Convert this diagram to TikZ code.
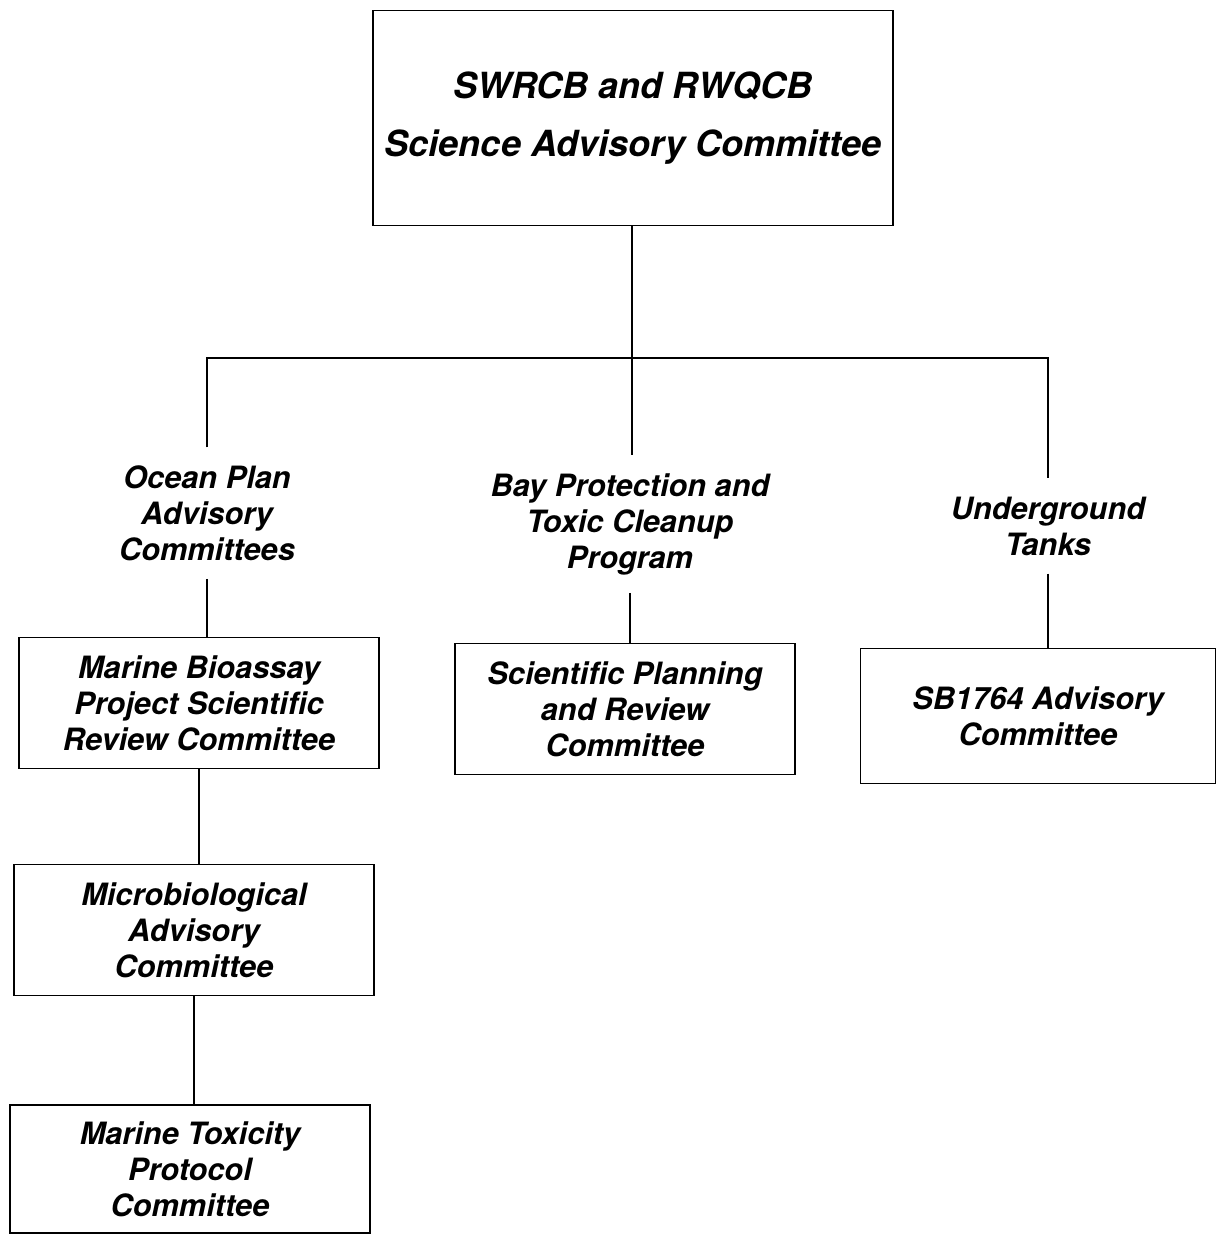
\documentclass[tikz,border=0pt]{standalone}
\usepackage{fontspec}
\setmainfont{TeX Gyre Heros}
\usetikzlibrary{calc}

\begin{document}
\begin{tikzpicture}[x=0.02cm,y=-0.02cm,line width=1pt,
  box/.style={draw,align=center,minimum width=7.2cm,minimum height=2.62cm,
    font=\bfseries\itshape\fontsize{17.5}{20.5}\selectfont},
  lbl/.style={align=center,outer sep=7pt,
    font=\bfseries\itshape\fontsize{17.5}{20.5}\selectfont}]
\useasboundingbox (0,0) rectangle (1215,1237);
\node[draw,align=center,minimum width=10.4cm,minimum height=4.3cm,
  font=\bfseries\itshape\fontsize{20.5}{33}\selectfont] (top) at (633,118)
  {SWRCB and RWQCB\\Science Advisory Committee};
\node[lbl] (ocean) at (207,513) {Ocean Plan\\Advisory\\Committees};
\node[lbl] (bay) at (630,524) {Bay Protection and\\Toxic Cleanup\\Program};
\node[lbl] (tanks) at (1048,526) {Underground\\Tanks};
\node[box] (bio) at (199,703) {Marine Bioassay\\Project Scientific\\Review Committee};
\node[box,minimum width=6.8cm] (plan) at (625,709) {Scientific Planning\\and Review\\Committee};
\node[box,minimum width=7.1cm,minimum height=2.7cm] (sb) at (1038,716) {SB1764 Advisory\\Committee};
\node[box] (micro) at (194,930) {Microbiological\\Advisory\\Committee};
\node[box,minimum height=2.56cm] (tox) at (190,1169) {Marine Toxicity\\Protocol\\Committee};
\coordinate (j) at (632,358);
\draw (top.south -| j) -- (bay.north -| j);
\draw (ocean.north) |- (j) -| (tanks.north);
\draw (ocean.south) -- (ocean.south |- bio.north);
\draw (bay.south) -- (bay.south |- plan.north);
\draw (tanks.south) -- (tanks.south |- sb.north);
\draw (bio.south) -- (bio.south |- micro.north);
\draw (micro.south) -- (micro.south |- tox.north);
\end{tikzpicture}
\end{document}
